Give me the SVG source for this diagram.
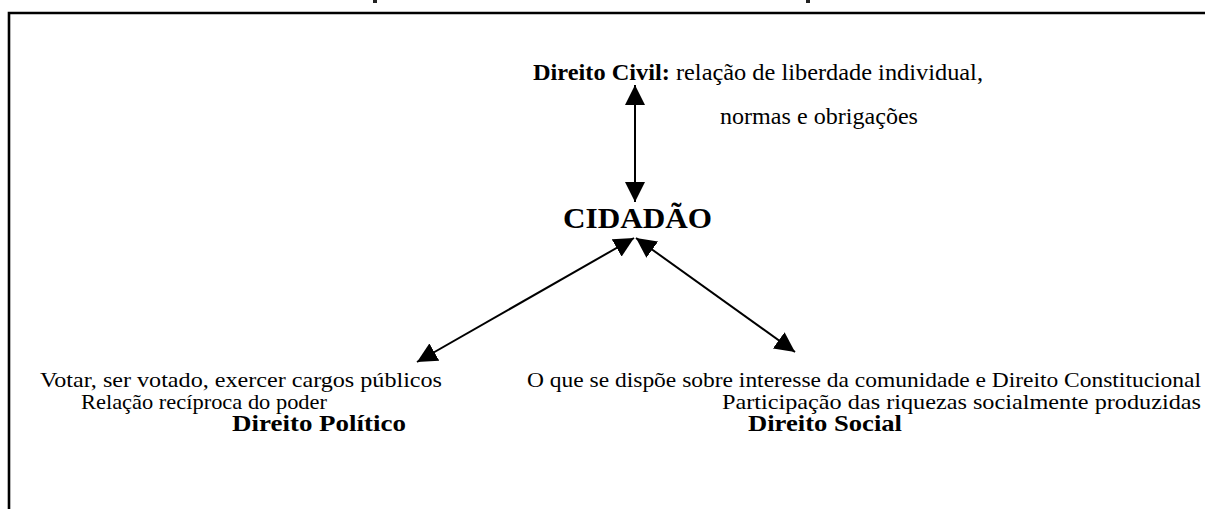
<svg xmlns="http://www.w3.org/2000/svg" width="1205" height="509" viewBox="0 0 1205 509">
  <defs>
    <marker id="ah" viewBox="0 0 20 20" refX="20" refY="10" markerWidth="20" markerHeight="20" markerUnits="userSpaceOnUse" orient="auto-start-reverse">
      <path d="M0,0 L20,10 L0,20 Z" fill="#000"/>
    </marker>
    <style>
      .t { font-family: "Liberation Serif", "Times New Roman", serif; font-size: 22px; fill: #000; }
      .b { font-weight: bold; }
      .conn { stroke: #000; stroke-width: 2; fill: none; marker-start: url(#ah); marker-end: url(#ah); }
    </style>
  </defs>
  <rect width="1205" height="509" fill="#fff"/>
  <!-- cut-off title remnants -->
  <rect x="373" y="0" width="4" height="3" fill="#222"/>
  <rect x="806" y="0" width="4" height="3" fill="#222"/>
  <!-- frame -->
  <path d="M9,509 V13 H1205" fill="none" stroke="#000" stroke-width="2.6"/>

  <g id="connectors">
    <line class="conn" x1="635" y1="85" x2="635" y2="202"/>
    <line class="conn" x1="634" y1="238" x2="417" y2="362"/>
    <line class="conn" x1="636" y1="238" x2="795" y2="352"/>
  </g>

  <g id="civil">
    <text class="t" x="533" y="80" textLength="450" lengthAdjust="spacingAndGlyphs" style="font-size:23px"><tspan class="b">Direito Civil:</tspan> relação de liberdade individual,</text>
    <text class="t" x="720" y="124" textLength="198" lengthAdjust="spacingAndGlyphs" style="font-size:23px">normas e obrigações</text>
  </g>

  <g id="cidadao">
    <text class="t b" x="563" y="228" textLength="149" lengthAdjust="spacingAndGlyphs" style="font-size:30px">CIDADÃO</text>
  </g>

  <g id="politico">
    <text class="t" x="40" y="387" textLength="402" lengthAdjust="spacingAndGlyphs">Votar, ser votado, exercer cargos públicos</text>
    <text class="t" x="81" y="409" textLength="246" lengthAdjust="spacingAndGlyphs">Relação recíproca do poder</text>
    <text class="t b" x="232" y="431" textLength="174" lengthAdjust="spacingAndGlyphs" style="font-size:23px">Direito Político</text>
  </g>

  <g id="social">
    <text class="t" x="527" y="387" textLength="674" lengthAdjust="spacingAndGlyphs">O que se dispõe sobre interesse da comunidade e Direito Constitucional</text>
    <text class="t" x="722" y="409" textLength="479" lengthAdjust="spacingAndGlyphs">Participação das riquezas socialmente produzidas</text>
    <text class="t b" x="748" y="431" textLength="154" lengthAdjust="spacingAndGlyphs" style="font-size:23px">Direito Social</text>
  </g>
</svg>
